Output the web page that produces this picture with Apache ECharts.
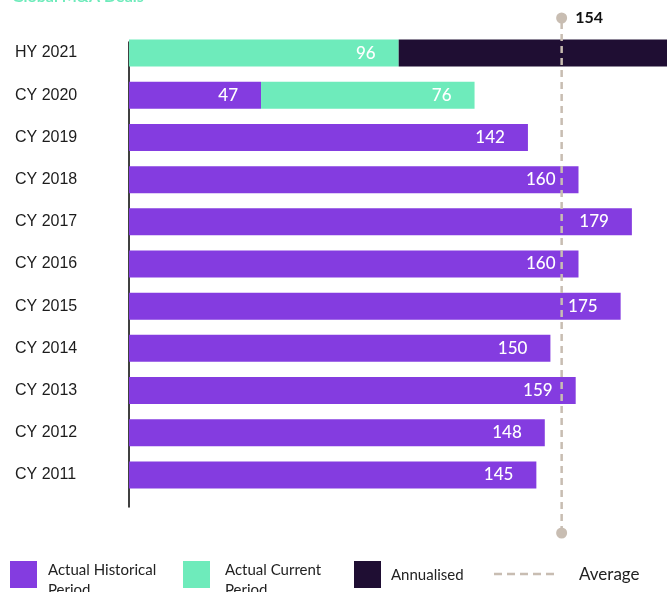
<!DOCTYPE html>
<html>
<head>
<meta charset="utf-8">
<script src="https://cdn.jsdelivr.net/npm/echarts@6/dist/echarts.min.js"></script>
<style>
html,body{margin:0;padding:0;background:#fff;}
#chart{width:667px;height:592px;}
</style>
</head>
<body>
<div id="chart"></div>
<script>
// ---- data ----
const categories = ['HY 2021','CY 2020','CY 2019','CY 2018','CY 2017','CY 2016','CY 2015','CY 2014','CY 2013','CY 2012','CY 2011'];
const historical = [null, 47, 142, 160, 179, 160, 175, 150, 159, 148, 145];
const current    = [96, 76, null, null, null, null, null, null, null, null, null];
const annualised = [96, null, null, null, null, null, null, null, null, null, null];
const averageValue = 154;
const titleText = 'Global M&A Deals';
const legendNames = ['Actual Historical\nPeriod', 'Actual Current\nPeriod', 'Annualised', 'Average'];

// ---- style ----
const C_HIST = '#843ce0';
const C_CUR = '#6eebbb';
const C_ANN = '#1f0e33';
const C_AVG = '#c8bdb2';
const XMAX = 191.5;
const valFont = 'Lato';

const chart = echarts.init(document.getElementById('chart'), null, {renderer: 'canvas'});

const barLabel = {
  show: true, position: 'insideRight', distance: 23,
  color: '#fff', fontSize: 17, fontFamily: valFont, fontWeight: 500
};

const option = {
  animation: false,
  backgroundColor: '#fff',
  grid: [
    {left: 129, right: 0, top: 32, bottom: 96},
    {left: 129, right: 0, top: 18, bottom: 59},
    {left: 129, right: 0, top: 42, bottom: 85}
  ],
  xAxis: [
    {gridIndex: 0, type: 'value', min: 0, max: XMAX, show: false},
    {gridIndex: 1, type: 'value', min: 0, max: XMAX, show: false},
    {gridIndex: 2, type: 'value', min: 0, max: XMAX, show: false}
  ],
  yAxis: [
    {
      gridIndex: 0, type: 'category', data: categories, inverse: true,
      axisLine: {show: false}, axisTick: {show: false},
      axisLabel: {
        align: 'left', margin: 114, fontFamily: 'Liberation Sans',
        fontSize: 16, color: '#1c1c1c'
      }
    },
    {gridIndex: 1, type: 'value', min: 0, max: 1, show: false},
    {
      gridIndex: 2, type: 'value', min: 0, max: 1,
      axisLine: {show: true, lineStyle: {color: '#000', width: 1.5}},
      axisTick: {show: false}, axisLabel: {show: false}, splitLine: {show: false}
    }
  ],
  series: [
    {
      name: 'Actual Historical Period', type: 'bar', stack: 'total',
      xAxisIndex: 0, yAxisIndex: 0, barWidth: 27,
      data: historical, itemStyle: {color: C_HIST}, label: barLabel
    },
    {
      name: 'Actual Current Period', type: 'bar', stack: 'total',
      xAxisIndex: 0, yAxisIndex: 0, barWidth: 27,
      data: current, itemStyle: {color: C_CUR}, label: barLabel
    },
    {
      name: 'Annualised', type: 'bar', stack: 'total',
      xAxisIndex: 0, yAxisIndex: 0, barWidth: 27,
      data: annualised, itemStyle: {color: C_ANN}, label: {show: false}
    },
    {
      name: 'Average', type: 'line', xAxisIndex: 1, yAxisIndex: 1,
      data: [
        [averageValue, 0],
        {value: [averageValue, 1], label: {
          show: true, position: 'right', distance: 8,
          formatter: String(averageValue), color: '#111',
          fontSize: 16, fontWeight: 'bold', fontFamily: valFont
        }}
      ],
      symbol: 'circle', symbolSize: 11, showSymbol: true,
      itemStyle: {color: C_AVG},
      lineStyle: {color: C_AVG, width: 2.5, type: [7, 5]},
      z: 5, silent: true, clip: false
    }
  ],
  graphic: [
    {type: 'text', x: 12, y: 5, style: {text: titleText, fill: C_CUR, font: 'bold 16px Lato', verticalAlign: 'bottom'}},
    // legend
    {type: 'rect', shape: {x: 10, y: 561, width: 27, height: 27}, style: {fill: C_HIST}},
    {type: 'text', x: 48, y: 560, style: {text: legendNames[0], fill: '#222', font: '15px Lato', lineHeight: 20, verticalAlign: 'top'}},
    {type: 'rect', shape: {x: 183, y: 561, width: 27, height: 27}, style: {fill: C_CUR}},
    {type: 'text', x: 225, y: 560, style: {text: legendNames[1], fill: '#222', font: '15px Lato', lineHeight: 20, verticalAlign: 'top'}},
    {type: 'rect', shape: {x: 354, y: 561, width: 27, height: 27}, style: {fill: C_ANN}},
    {type: 'text', x: 391, y: 575, style: {text: legendNames[2], fill: '#222', font: '15px Lato', verticalAlign: 'middle'}},
    {type: 'line', shape: {x1: 494, y1: 574, x2: 557, y2: 574}, style: {stroke: C_AVG, lineWidth: 2.5, lineDash: [8, 5]}},
    {type: 'text', x: 579, y: 575, style: {text: legendNames[3], fill: '#222', font: '17px Lato', verticalAlign: 'middle'}}
  ]
};
chart.setOption(option);
</script>
</body>
</html>
